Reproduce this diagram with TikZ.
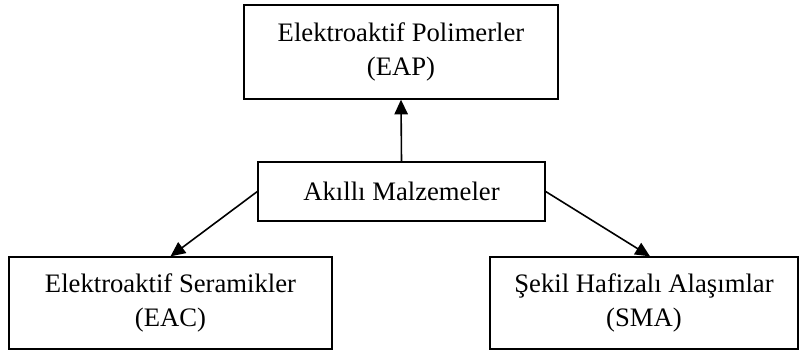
\documentclass[tikz,border=0pt]{standalone}
\usepackage{fontspec}
\setmainfont{Liberation Serif}
\usetikzlibrary{arrows.meta}
\begin{document}
\begin{tikzpicture}[x=0.75pt,y=-0.75pt,
  box/.style={draw,line width=1pt,inner sep=0pt,align=center,
    font=\fontsize{20}{25.5}\selectfont},
  conn/.style={line width=1.2pt,-{Triangle[length=11pt,width=10pt]}}]
\useasboundingbox (0,0) rectangle (802,351);
\node[box,minimum width=235.5pt,minimum height=70.5pt] (eap) at (401,52) {Elektroaktif Polimerler\\(EAP)};
\node[box,minimum width=215.25pt,minimum height=44.25pt] (mid) at (401.5,191.5) {Akıllı Malzemeler};
\node[box,minimum width=242.25pt,minimum height=69pt] (eac) at (170.5,303) {Elektroaktif Seramikler\\(EAC)};
\node[box,minimum width=231pt,minimum height=69pt] (sma) at (644,303) {Şekil Hafizalı Alaşımlar\\(SMA)};
\draw[conn] (mid.north) -- (eap.south);
\draw[conn] (mid.west) -- (eac.north);
\draw[conn] (mid.east) -- ([xshift=4.5pt]sma.north);
\end{tikzpicture}
\end{document}
